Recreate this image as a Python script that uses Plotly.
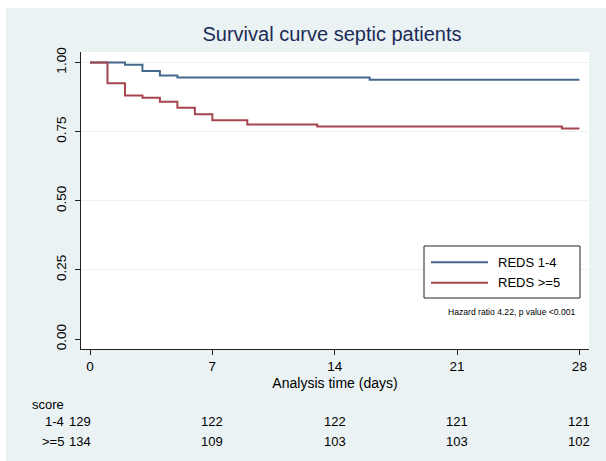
import plotly.graph_objects as go

# ---- data ----
series_names = ["REDS 1-4", "REDS >=5"]
days_low = [0, 2, 3, 4, 5, 16, 28]
surv_low = [1.000, 0.992, 0.969, 0.953, 0.946, 0.938, 0.938]
days_high = [0, 1, 2, 3, 4, 5, 6, 7, 9, 13, 27, 28]
surv_high = [1.000, 0.925, 0.881, 0.873, 0.858, 0.836, 0.813, 0.791, 0.776, 0.769, 0.761, 0.761]

x_ticks = [0, 7, 14, 21, 28]
y_ticks = [0.0, 0.25, 0.5, 0.75, 1.0]
y_tick_labels = ["0.00", "0.25", "0.50", "0.75", "1.00"]

risk_days = [0, 7, 14, 21, 28]
risk_low = [129, 122, 122, 121, 121]
risk_high = [134, 109, 103, 103, 102]
risk_row_labels = ["1-4", ">=5"]

title_text = "Survival curve septic patients"
x_title = "Analysis time (days)"
note_text = "Hazard ratio 4.22, p value <0.001"

# ---- style ----
FONT = "Liberation Sans, Arial, Helvetica, sans-serif"
BG = "#EAF2F3"
COL_LOW = "#44698c"
COL_HIGH = "#a5464e"
W, H = 606, 461
L, R, T, B = 81, 17, 52, 112
PW, PH = W - L - R, H - T - B

def px_x(p):
    return (p - L) / PW

def px_y(p):
    return (H - B - p) / PH

fig = go.Figure()
fig.add_trace(go.Scatter(x=days_low, y=surv_low, mode="lines", line_shape="hv",
                         line=dict(color=COL_LOW, width=2), name=series_names[0],
                         showlegend=False))
fig.add_trace(go.Scatter(x=days_high, y=surv_high, mode="lines", line_shape="hv",
                         line=dict(color=COL_HIGH, width=2), name=series_names[1],
                         showlegend=False))

shapes = []
annotations = []

# white border strips
shapes.append(dict(type="rect", xref="paper", yref="paper", x0=px_x(0), x1=px_x(W),
                   y0=px_y(8), y1=px_y(0), fillcolor="white", line_width=0, layer="below"))
shapes.append(dict(type="rect", xref="paper", yref="paper", x0=px_x(0), x1=px_x(6),
                   y0=px_y(H), y1=px_y(0), fillcolor="white", line_width=0, layer="below"))

# custom legend box
shapes.append(dict(type="rect", xref="paper", yref="paper", x0=px_x(424), x1=px_x(580),
                   y0=px_y(298), y1=px_y(246), fillcolor="white",
                   line=dict(color="#222222", width=1), layer="above"))
for i, (nm, col, yy) in enumerate(zip(series_names, [COL_LOW, COL_HIGH], [262.3, 282.7])):
    shapes.append(dict(type="line", xref="paper", yref="paper", x0=px_x(431), x1=px_x(488),
                       y0=px_y(yy), y1=px_y(yy), line=dict(color=col, width=2), layer="above"))
    annotations.append(dict(text=nm, xref="paper", yref="paper", x=px_x(496), y=px_y(yy),
                            xanchor="left", yanchor="middle", showarrow=False,
                            font=dict(family=FONT, size=13, color="black")))

annotations.append(dict(text=note_text, xref="paper", yref="paper", x=px_x(578), y=px_y(312),
                        xanchor="right", yanchor="middle", showarrow=False,
                        font=dict(family=FONT, size=8.6, color="black")))

# risk table
annotations.append(dict(text="score", xref="paper", yref="paper", x=px_x(30), y=px_y(404),
                        xanchor="left", yanchor="middle", showarrow=False,
                        font=dict(family=FONT, size=13, color="black")))
for lab, vals, yy in zip(risk_row_labels, [risk_low, risk_high], [421.7, 441.7]):
    annotations.append(dict(text=lab, xref="paper", yref="paper", x=px_x(66), y=px_y(yy),
                            xanchor="right", yanchor="middle", showarrow=False,
                            font=dict(family=FONT, size=13, color="black")))
    for d, v in zip(risk_days, vals):
        annotations.append(dict(text=str(v), xref="x", yref="paper", x=d, y=px_y(yy),
                                xanchor="right" if d == 0 else "center", yanchor="middle",
                                xshift=3 if d == 0 else 0,
                                showarrow=False,
                                font=dict(family=FONT, size=13, color="black")))

fig.update_layout(
    width=W, height=H,
    margin=dict(l=L, r=R, t=T, b=B),
    paper_bgcolor=BG, plot_bgcolor="white",
    title=dict(text=title_text, x=px_x(332), xref="paper", xanchor="center",
               y=1 - 34 / H, yref="container", yanchor="middle",
               font=dict(family=FONT, size=20, color="#1c2b57")),
    shapes=shapes, annotations=annotations,
    showlegend=False,
)
fig.update_xaxes(range=[-0.515, 28.55], tickvals=x_ticks, ticktext=[str(t) for t in x_ticks],
                 showline=True, linecolor="#222222", linewidth=1, mirror=False,
                 ticks="outside", ticklen=5, tickcolor="#222222", showgrid=False, zeroline=False,
                 tickfont=dict(family=FONT, size=13.5, color="black"),
                 title=dict(text=x_title, font=dict(family=FONT, size=14, color="black"), standoff=4))
fig.update_yaxes(range=[-0.036, 1.038], tickvals=y_ticks, ticktext=y_tick_labels,
                 showline=True, linecolor="#222222", linewidth=1,
                 ticks="outside", ticklen=5, tickcolor="#222222",
                 showgrid=True, gridcolor=BG, gridwidth=1,
                 zeroline=True, zerolinecolor="white", zerolinewidth=1,
                 tickangle=-90, ticklabelstandoff=4,
                 tickfont=dict(family=FONT, size=13.5, color="black"))

fig.write_html("out.html")
